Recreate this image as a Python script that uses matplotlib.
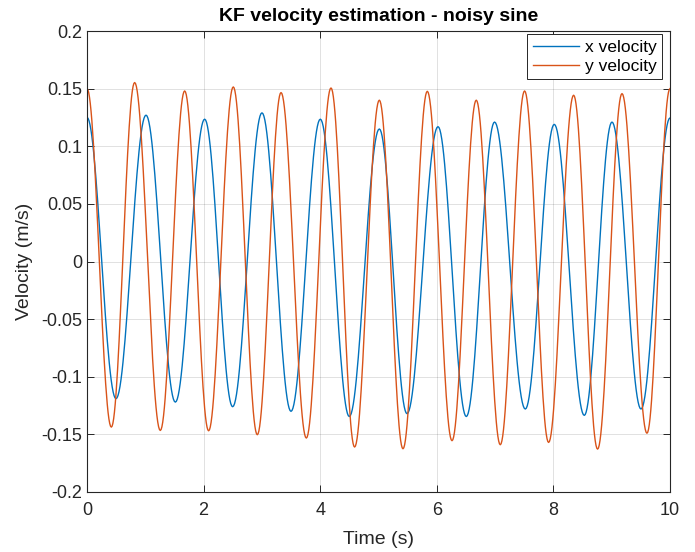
import numpy as np
import matplotlib
matplotlib.use('Agg')
import matplotlib.pyplot as plt

# extrema (time, value), per series
x_vel_t = [0.0, 0.497, 1.012, 1.515, 2.018, 2.498, 3.001, 3.499, 4.002, 4.499,
           5.014, 5.489, 6.021, 6.506, 6.991, 7.518, 8.015, 8.530, 9.005, 9.503, 10.0]
x_vel_v = [0.125, -0.119, 0.127, -0.122, 0.1235, -0.126, 0.129, -0.130, 0.1235, -0.1345,
           0.115, -0.132, 0.117, -0.1345, 0.121, -0.128, 0.119, -0.1335, 0.121, -0.128, 0.1245]

y_vel_t = [0.0, 0.417, 0.817, 1.257, 1.675, 2.086, 2.509, 2.921, 3.328, 3.762, 4.185,
           4.590, 5.014, 5.420, 5.837, 6.261, 6.677, 7.089, 7.506, 7.918, 8.347, 8.758,
           9.177, 9.605, 10.0]
y_vel_v = [0.150, -0.1437, 0.1553, -0.1466, 0.148, -0.1469, 0.1515, -0.1503, 0.1466,
           -0.1532, 0.1506, -0.161, 0.140, -0.1625, 0.1477, -0.1555, 0.140, -0.159, 0.148,
           -0.157, 0.1443, -0.1628, 0.1457, -0.149, 0.150]

x_ticks = [0, 2, 4, 6, 8, 10]
y_ticks = [-0.2, -0.15, -0.1, -0.05, 0, 0.05, 0.1, 0.15, 0.2]
y_tick_labels = ['-0.2', '-0.15', '-0.1', '-0.05', '0', '0.05', '0.1', '0.15', '0.2']


def wave_through(ts, vs, n=30):
    # smooth half-cosine stroke between consecutive extrema
    tt, vv = [], []
    for t0, t1, v0, v1 in zip(ts[:-1], ts[1:], vs[:-1], vs[1:]):
        s = np.linspace(0, 1, n, endpoint=False)
        tt.extend(t0 + (t1 - t0) * s)
        vv.extend(v0 + (v1 - v0) * (1 - np.cos(np.pi * s)) / 2)
    tt.append(ts[-1])
    vv.append(vs[-1])
    return np.array(tt), np.array(vv)


plt.rcParams['font.family'] = ['Liberation Sans', 'DejaVu Sans']
dark = '#262626'

fig = plt.figure(figsize=(6.95, 5.52), dpi=100)
ax = fig.add_axes([0.1252, 0.1087, 0.8388, 0.8351])

t, v = wave_through(x_vel_t, x_vel_v)
ax.plot(t, v, color='#0072BD', lw=1.0, label='x velocity')
t, v = wave_through(y_vel_t, y_vel_v)
ax.plot(t, v, color='#D95319', lw=1.0, label='y velocity')

ax.set_xlim(0, 10)
ax.set_ylim(-0.2, 0.2)
ax.set_xticks(x_ticks)
ax.set_yticks(y_ticks)
ax.set_yticklabels(y_tick_labels)
ax.grid(True, color='#000000', alpha=0.12, lw=0.7)
ax.tick_params(direction='in', length=5, width=0.7, colors=dark, labelsize=13,
               top=True, right=True, labeltop=False, labelright=False)
ax.tick_params(axis='x', pad=7)
for sp in ax.spines.values():
    sp.set_color(dark)
    sp.set_linewidth(0.8)

ax.set_title('KF velocity estimation - noisy sine', fontsize=14, fontweight='bold',
             color='black', pad=7)
ax.set_xlabel('Time (s)', fontsize=14, color=dark, labelpad=9)
ax.set_ylabel('Velocity (m/s)', fontsize=14, color=dark, labelpad=6)

leg = ax.legend(loc='upper right', bbox_to_anchor=(0.9857, 0.9928), fontsize=12.5,
                fancybox=False, framealpha=1, edgecolor=dark, borderaxespad=0,
                handlelength=2.7, borderpad=0.3, labelspacing=0.25, handletextpad=0.3)
leg.get_frame().set_linewidth(0.7)

fig.savefig('out.png', dpi=100)
